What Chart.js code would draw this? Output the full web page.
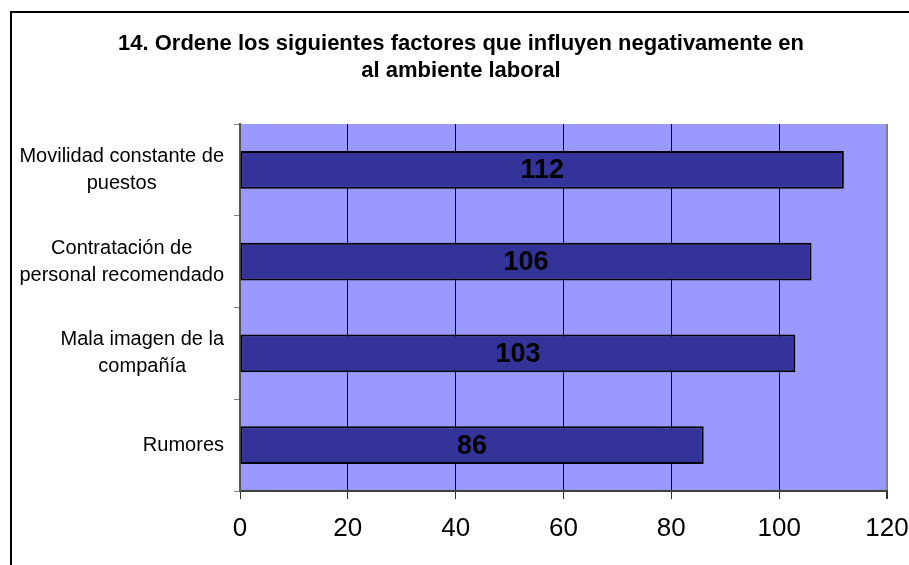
<!DOCTYPE html>
<html>
<head>
<meta charset="utf-8">
<script src="https://cdn.jsdelivr.net/npm/chart.js@4/dist/chart.umd.min.js"></script>
<style>
  html, body { margin: 0; padding: 0; background: #fff; }
  #wrap { width: 909px; height: 565px; position: relative; }
</style>
</head>
<body>
<div id="wrap"><canvas id="c" width="909" height="565"></canvas></div>
<script>
// Factors, one entry per bar (each label split into its display lines)
const categories = [
  ["Movilidad constante de", "puestos"],
  ["Contratación de", "personal recomendado"],
  ["Mala imagen de la", "compañía"],
  ["Rumores"]
];
const values = [112, 106, 103, 86];
const xTicks = [0, 20, 40, 60, 80, 100, 120];
const titleLines = [
  "14. Ordene los siguientes factores que influyen negativamente en",
  "al ambiente laboral"
];

const FONT = "'Liberation Sans', Arial, sans-serif";
const PLOT_BG = '#9999FF';
const BAR_FILL = '#333399';
const AXIS_GREY = '#808080';

// Plot background, and the outer frame of the whole chart
const backdrop = {
  id: 'backdrop',
  beforeDraw(chart) {
    const { ctx, chartArea: a } = chart;
    ctx.save();
    ctx.fillStyle = PLOT_BG;
    ctx.fillRect(a.left, a.top, a.right - a.left, a.bottom - a.top);
    ctx.strokeStyle = '#000';
    ctx.lineWidth = 2;
    ctx.beginPath();
    ctx.moveTo(11, 565);
    ctx.lineTo(11, 12);
    ctx.lineTo(909, 12);
    ctx.stroke();
    ctx.restore();
  }
};

// Category labels: block right-aligned against the axis, lines centred inside it
const categoryLabels = {
  id: 'categoryLabels',
  afterDraw(chart) {
    const { ctx } = chart;
    const y = chart.scales.y;
    ctx.save();
    ctx.font = '20px ' + FONT;
    ctx.fillStyle = '#000';
    ctx.textBaseline = 'middle';
    ctx.textAlign = 'center';
    const lh = 27;
    const right = y.right - 16;
    categories.forEach((lines, i) => {
      const cy = y.getPixelForValue(i);
      const w = Math.max(...lines.map(l => ctx.measureText(l).width));
      const cx = right - w / 2;
      const y0 = cy - (lines.length - 1) * lh / 2;
      lines.forEach((l, k) => ctx.fillText(l, cx, y0 + k * lh));
    });
    ctx.restore();
  }
};

// Value printed in the middle of each bar
const valueLabels = {
  id: 'valueLabels',
  afterDatasetsDraw(chart) {
    const { ctx } = chart;
    const meta = chart.getDatasetMeta(0);
    ctx.save();
    ctx.font = 'bold 27px ' + FONT;
    ctx.fillStyle = '#000';
    ctx.textAlign = 'center';
    ctx.textBaseline = 'middle';
    meta.data.forEach((bar, i) => {
      ctx.fillText(String(values[i]), (bar.x + bar.base) / 2, bar.y + 1);
    });
    ctx.restore();
  }
};

new Chart(document.getElementById('c'), {
  type: 'bar',
  data: {
    labels: categories,
    datasets: [{
      data: values,
      backgroundColor: BAR_FILL,
      borderColor: '#000',
      borderWidth: 2,
      borderSkipped: false,
      categoryPercentage: 1,
      barPercentage: 0.41
    }]
  },
  options: {
    indexAxis: 'y',
    responsive: false,
    animation: false,
    layout: { padding: { left: 35, right: 22, top: 0, bottom: 0 } },
    plugins: {
      legend: { display: false },
      tooltip: { enabled: false },
      title: {
        display: true,
        text: titleLines,
        color: '#000',
        font: { family: FONT, size: 22, weight: 'bold', lineHeight: 27 / 22 },
        padding: { top: 30, bottom: 40 }
      }
    },
    scales: {
      x: {
        type: 'linear',
        min: 0,
        max: 120,
        afterBuildTicks(scale) { scale.ticks = xTicks.map(v => ({ value: v })); },
        afterFit(scale) {
          scale.height = 74;
          scale.paddingLeft = 0;
          scale.paddingRight = 0;
        },
        ticks: {
          color: '#000',
          font: { family: FONT, size: 26 },
          padding: 14,
          maxRotation: 0
        },
        grid: {
          color: ctx => (ctx.tick && (ctx.tick.value === 0 || ctx.tick.value === 120)) ? AXIS_GREY : '#000',
          lineWidth: ctx => (ctx.tick && ctx.tick.value === 120) ? 2 : 1,
          tickColor: '#333',
          tickLength: 8
        },
        border: { display: true, color: '#404040', width: 2 }
      },
      y: {
        type: 'category',
        afterFit(scale) {
          scale.width = 205;
          scale.paddingTop = 0;
          scale.paddingBottom = 0;
        },
        ticks: { display: false },
        grid: {
          offset: true,
          drawOnChartArea: false,
          color: AXIS_GREY,
          tickLength: 6
        },
        border: { display: true, color: '#555', width: 2 }
      }
    }
  },
  plugins: [backdrop, categoryLabels, valueLabels]
});
</script>
</body>
</html>
